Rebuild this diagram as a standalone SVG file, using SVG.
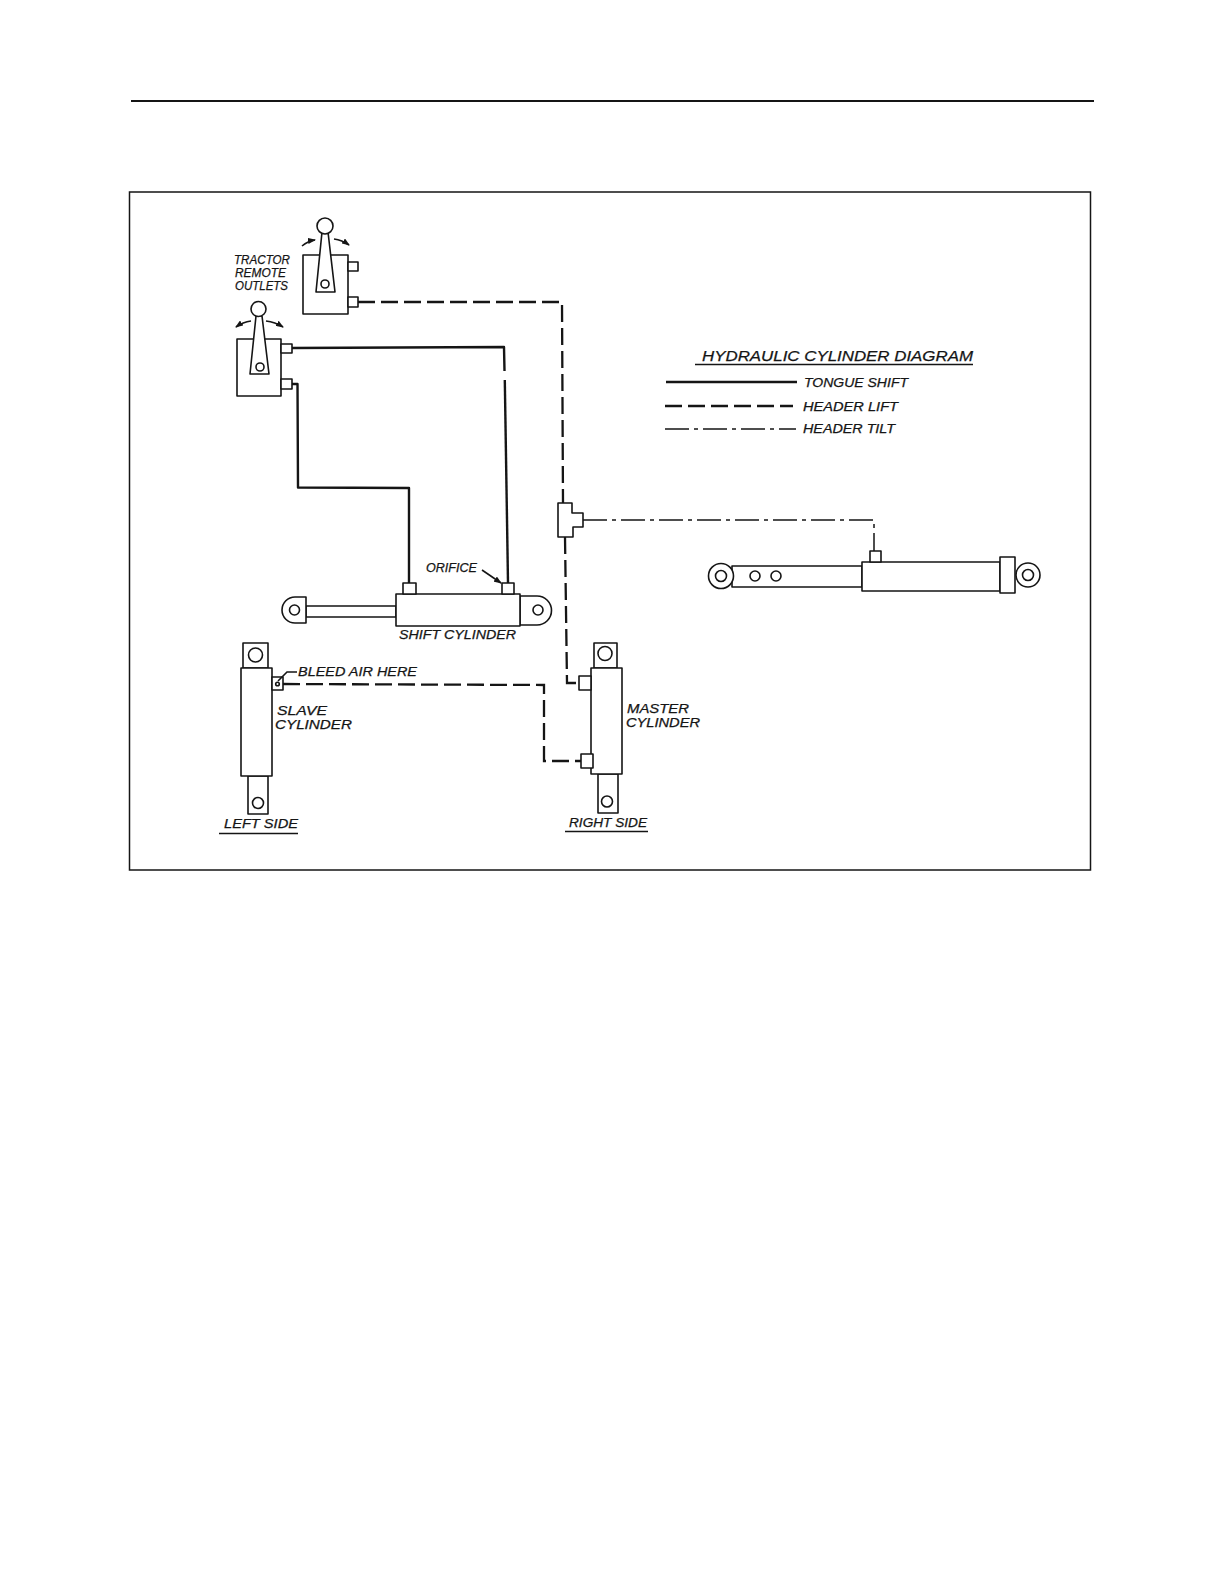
<svg xmlns="http://www.w3.org/2000/svg" width="1224" height="1584" viewBox="0 0 1224 1584">
<defs>
<marker id="mh" markerWidth="8" markerHeight="6" refX="7" refY="3" orient="auto" markerUnits="userSpaceOnUse"><path d="M0 0L8 3L0 6Z" fill="#151515"/></marker>
</defs>
<style>
.s{fill:#fff;stroke:#151515;stroke-width:1.6;stroke-linejoin:round}
.t{font-family:"Liberation Sans",Arial,sans-serif;font-style:italic;font-size:12.5px;fill:#151515;stroke:#151515;stroke-width:.25;dominant-baseline:central}
.big{font-size:15px}
.solid{fill:none;stroke:#151515;stroke-width:2.4;stroke-linejoin:round}
.lift{fill:none;stroke:#151515;stroke-width:2.3;stroke-dasharray:17 6}
.tilt{fill:none;stroke:#151515;stroke-width:1.5;stroke-dasharray:24 5 4 5}
.l{fill:none;stroke:#151515;stroke-width:1.6}
.a{fill:none;stroke:#151515;stroke-width:1.6;marker-end:url(#mh)}
</style>
<rect width="1224" height="1584" fill="#fff"/>
<path d="M131 101H1094" stroke="#151515" stroke-width="2"/>
<rect x="129.500" y="192" width="961" height="678" fill="#fff" stroke="#151515" stroke-width="1.500"/>

<g id="connectors">
<path class="solid" d="M292 348L504 347L504.500 371"/>
<path class="solid" d="M504.800 380L508 583"/>
<path class="solid" d="M292 384H297.500L298 487.500L409 488V583"/>
<path class="lift" d="M358 302H562L563 503"/>
<path class="lift" d="M565 537L567 683H579"/>
<path class="lift" d="M283 684L544 685L544 761H581"/>
<path class="tilt" d="M583 520H874V551"/>
</g>

<g id="lever-upper">
<rect class="s" x="303" y="255" width="45" height="59"/>
<rect class="s" x="348" y="262" width="10" height="9"/>
<rect class="s" x="348" y="297" width="10" height="10"/>
<path class="s" d="M322 232L316 292H335L328 232Z"/>
<circle class="s" cx="325" cy="226" r="8"/>
<circle class="s" cx="325" cy="284" r="4"/>
<path class="a" d="M302 246Q308 241 315 240"/>
<path class="a" d="M334 239Q342 240 349 245"/>
</g>
<g id="lever-lower">
<rect class="s" x="237" y="339" width="44" height="57"/>
<rect class="s" x="281" y="344" width="11" height="9"/>
<rect class="s" x="281" y="379" width="11" height="10"/>
<path class="s" d="M256 316L250 374H269L262 316Z"/>
<circle class="s" cx="258.500" cy="309" r="7.500"/>
<circle class="s" cx="260" cy="367" r="4"/>
<path class="a" d="M251 321Q243 322 236 327"/>
<path class="a" d="M266 321Q275 322 283 327"/>
</g>
<g id="tractor-label">
<text class="t" x="234" y="260" textLength="56" lengthAdjust="spacingAndGlyphs">TRACTOR</text>
<text class="t" x="235" y="273" textLength="51" lengthAdjust="spacingAndGlyphs">REMOTE</text>
<text class="t" x="235" y="285.500" textLength="53" lengthAdjust="spacingAndGlyphs">OUTLETS</text>
</g>

<g id="shift-cylinder">
<path class="s" d="M306 606H396V617H306Z"/>
<path class="s" d="M306 597V623H295A13 13 0 0 1 295 597Z"/>
<circle class="s" cx="294.500" cy="610" r="5"/>
<path class="s" d="M520 596H537A14.500 14.500 0 0 1 537 625H520Z"/>
<circle class="s" cx="538" cy="610" r="5"/>
<rect class="s" x="396" y="594" width="124" height="32"/>
<rect class="s" x="403" y="583" width="13" height="11"/>
<rect class="s" x="502" y="583" width="12" height="11"/>
<path class="a" d="M482 570L501 583"/>
<text class="t" x="426" y="568" textLength="51" lengthAdjust="spacingAndGlyphs">ORIFICE</text>
<text class="t" x="399" y="635" textLength="117" lengthAdjust="spacingAndGlyphs">SHIFT CYLINDER</text>
</g>

<g id="slave-cylinder">
<rect class="s" x="243" y="643" width="25" height="25"/>
<circle class="s" cx="255.500" cy="655" r="7"/>
<rect class="s" x="248" y="776" width="20" height="38"/>
<circle class="s" cx="258" cy="803" r="5.500"/>
<rect class="s" x="241" y="668" width="31" height="108"/>
<rect class="s" x="272" y="677" width="11" height="13"/>
<circle class="s" cx="277.500" cy="684" r="1.800"/>
<path class="l" d="M278 681L287 672H297"/>
<text class="t" x="298" y="672" textLength="119" lengthAdjust="spacingAndGlyphs">BLEED AIR HERE</text>
<text class="t" x="277" y="711" textLength="50" lengthAdjust="spacingAndGlyphs">SLAVE</text>
<text class="t" x="275" y="724.500" textLength="77" lengthAdjust="spacingAndGlyphs">CYLINDER</text>
<text class="t" x="224" y="824" textLength="74" lengthAdjust="spacingAndGlyphs">LEFT SIDE</text>
<path class="l" d="M219 833.500H298"/>
</g>

<g id="master-cylinder">
<rect class="s" x="594" y="643" width="23" height="25"/>
<circle class="s" cx="605" cy="653.500" r="7"/>
<rect class="s" x="598" y="774" width="20" height="39"/>
<circle class="s" cx="607" cy="801.500" r="5.500"/>
<rect class="s" x="591" y="668" width="31" height="106"/>
<rect class="s" x="579" y="676" width="12" height="14"/>
<rect class="s" x="581" y="754" width="12" height="14"/>
<text class="t" x="627" y="709" textLength="62" lengthAdjust="spacingAndGlyphs">MASTER</text>
<text class="t" x="626" y="723" textLength="74" lengthAdjust="spacingAndGlyphs">CYLINDER</text>
<text class="t" x="569" y="823" textLength="78" lengthAdjust="spacingAndGlyphs">RIGHT SIDE</text>
<path class="l" d="M565 831.500H648"/>
</g>

<g id="tee">
<path class="s" d="M558 503H572V513H583V527H573V537H558Z"/>
</g>

<g id="tilt-cylinder">
<rect class="s" x="732" y="566" width="130" height="21"/>
<circle class="s" cx="721" cy="576" r="12.500"/>
<circle class="s" cx="721" cy="576" r="5.500"/>
<circle class="s" cx="755" cy="576" r="5"/>
<circle class="s" cx="776" cy="576" r="5"/>
<circle class="s" cx="1028" cy="575" r="12"/>
<circle class="s" cx="1028" cy="575" r="5.500"/>
<rect class="s" x="862" y="562" width="138" height="29"/>
<rect class="s" x="1000" y="557" width="15" height="36"/>
<rect class="s" x="870" y="551" width="11" height="11"/>
</g>

<g id="legend">
<text class="t big" x="702" y="355" textLength="271" lengthAdjust="spacingAndGlyphs">HYDRAULIC CYLINDER DIAGRAM</text>
<path class="l" d="M695 364.500H973"/>
<path class="solid" d="M666 382H797"/>
<path class="lift" d="M665 406H793"/>
<path class="tilt" d="M665 429H796"/>
<text class="t" x="804" y="382.500" textLength="104" lengthAdjust="spacingAndGlyphs">TONGUE SHIFT</text>
<text class="t" x="803" y="407" textLength="95" lengthAdjust="spacingAndGlyphs">HEADER LIFT</text>
<text class="t" x="803" y="429" textLength="92" lengthAdjust="spacingAndGlyphs">HEADER TILT</text>
</g>
</svg>
